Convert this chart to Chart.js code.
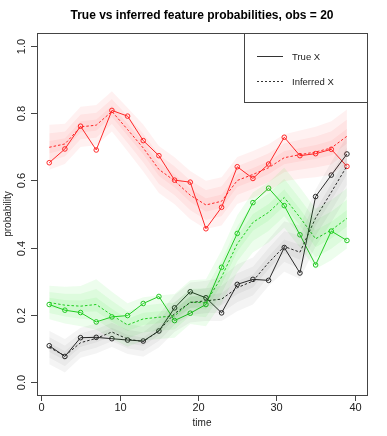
<!DOCTYPE html>
<html>
<head>
<meta charset="utf-8">
<script src="https://cdn.jsdelivr.net/npm/chart.js@4.4.1/dist/chart.umd.min.js"></script>
<style>
  html, body { margin: 0; padding: 0; background: #fff; }
  #wrap { width: 387px; height: 436px; }
</style>
</head>
<body>
<div id="wrap"><canvas id="myChart" width="387" height="436"></canvas></div>
<script>
// time points (obs = 20)
const times = [1, 3, 5, 7, 9, 11, 13, 15, 17, 19, 21, 23, 25, 27, 29, 31, 33, 35, 37, 39];

// red feature
const redTrue = [0.653, 0.694, 0.762, 0.691, 0.809, 0.792, 0.719, 0.674, 0.601, 0.595, 0.456, 0.520, 0.641, 0.606, 0.649, 0.729, 0.674, 0.680, 0.693, 0.642];
const redInferred = [0.699, 0.709, 0.760, 0.765, 0.806, 0.752, 0.697, 0.633, 0.599, 0.556, 0.527, 0.538, 0.600, 0.618, 0.638, 0.668, 0.677, 0.685, 0.697, 0.732];
const redSpread = [0.067, 0.060, 0.060, 0.060, 0.060, 0.065, 0.070, 0.070, 0.070, 0.072, 0.072, 0.072, 0.070, 0.070, 0.070, 0.070, 0.072, 0.075, 0.080, 0.080];

// green feature
const greenTrue = [0.230, 0.213, 0.206, 0.178, 0.193, 0.197, 0.233, 0.254, 0.182, 0.204, 0.230, 0.341, 0.442, 0.534, 0.577, 0.525, 0.438, 0.348, 0.449, 0.421];
const greenInferred = [0.236, 0.228, 0.225, 0.230, 0.198, 0.169, 0.187, 0.192, 0.196, 0.237, 0.235, 0.312, 0.411, 0.475, 0.505, 0.549, 0.490, 0.426, 0.452, 0.487];
const greenSpread = [0.050, 0.055, 0.060, 0.075, 0.070, 0.065, 0.065, 0.065, 0.065, 0.065, 0.070, 0.080, 0.085, 0.090, 0.090, 0.090, 0.090, 0.090, 0.090, 0.090];

// black feature
const blackTrue = [0.107, 0.075, 0.131, 0.132, 0.128, 0.124, 0.121, 0.151, 0.220, 0.268, 0.250, 0.205, 0.290, 0.305, 0.302, 0.400, 0.324, 0.552, 0.616, 0.679];
const blackInferred = [0.102, 0.077, 0.116, 0.129, 0.148, 0.127, 0.119, 0.152, 0.203, 0.236, 0.241, 0.246, 0.280, 0.300, 0.355, 0.403, 0.386, 0.488, 0.565, 0.643];
const blackSpread = [0.050, 0.050, 0.045, 0.045, 0.045, 0.045, 0.045, 0.050, 0.055, 0.060, 0.060, 0.065, 0.070, 0.070, 0.070, 0.075, 0.080, 0.085, 0.090, 0.090];

// axis ticks
const xTicks = [0, 10, 20, 30, 40];
const yTicks = [0, 0.2, 0.4, 0.6, 0.8, 1.0];
const bandLevels = [1.0, 0.62, 0.28];

const FONT = '"Liberation Sans", Arial, Helvetica, sans-serif';

function pts(values) {
    return times.map((t, i) => ({ x: t, y: values[i] }));
}

function bandDatasets(mean, spread, fillColor) {
    const sets = [];
    bandLevels.forEach(k => {
        sets.push({
            data: times.map((t, i) => ({ x: t, y: mean[i] - k * spread[i] })),
            borderWidth: 0,
            pointRadius: 0,
            fill: false
        });
        sets.push({
            data: times.map((t, i) => ({ x: t, y: mean[i] + k * spread[i] })),
            borderWidth: 0,
            pointRadius: 0,
            backgroundColor: fillColor,
            fill: '-1'
        });
    });
    return sets;
}

function trueLine(values, color) {
    return {
        data: pts(values),
        borderColor: color,
        borderWidth: 1,
        pointRadius: 2.3,
        pointBorderWidth: 1,
        pointBorderColor: color,
        pointBackgroundColor: 'rgba(0,0,0,0)',
        fill: false
    };
}

function inferredLine(values, color) {
    return {
        data: pts(values),
        borderColor: color,
        borderWidth: 1,
        borderDash: [2.5, 2],
        pointRadius: 0,
        fill: false
    };
}

const RED = 'rgb(255,45,45)';
const GREEN = 'rgb(40,200,40)';
const BLACK = 'rgb(45,45,45)';

// R style box, ticks, labels and legend
const rAxes = {
    id: 'rAxes',
    afterDraw(chart) {
        const ctx = chart.ctx;
        const a = chart.chartArea;
        const xs = chart.scales.x;
        const ys = chart.scales.y;
        ctx.save();
        ctx.strokeStyle = '#444';
        ctx.fillStyle = '#222';
        ctx.lineWidth = 1;

        // box
        ctx.strokeRect(Math.round(a.left) + 0.5, Math.round(a.top) + 0.5,
            Math.round(a.right - a.left), Math.round(a.bottom - a.top));

        // x ticks
        ctx.font = '11px ' + FONT;
        ctx.textAlign = 'center';
        ctx.textBaseline = 'middle';
        xTicks.forEach(v => {
            const px = Math.round(xs.getPixelForValue(v)) + 0.5;
            ctx.beginPath();
            ctx.moveTo(px, a.bottom);
            ctx.lineTo(px, a.bottom + 6);
            ctx.stroke();
            ctx.fillText(String(v), px, a.bottom + 13);
        });

        // y ticks (labels parallel to axis)
        yTicks.forEach(v => {
            const py = Math.round(ys.getPixelForValue(v)) + 0.5;
            ctx.beginPath();
            ctx.moveTo(a.left, py);
            ctx.lineTo(a.left - 6, py);
            ctx.stroke();
            ctx.save();
            ctx.translate(a.left - 15, py);
            ctx.rotate(-Math.PI / 2);
            ctx.fillText(v.toFixed(1), 0, 0);
            ctx.restore();
        });

        // axis titles
        ctx.font = '10px ' + FONT;
        ctx.fillText('time', (a.left + a.right) / 2, 423);
        ctx.save();
        ctx.translate(8, (a.top + a.bottom) / 2);
        ctx.rotate(-Math.PI / 2);
        ctx.fillText('probability', 0, 0);
        ctx.restore();

        // main title
        ctx.fillStyle = '#000';
        ctx.font = 'bold 12px ' + FONT;
        ctx.fillText('True vs inferred feature probabilities, obs = 20', (a.left + a.right) / 2, 16);

        // legend
        const lx = 244.5, ly = Math.round(a.top) + 0.5;
        ctx.fillStyle = '#fff';
        ctx.fillRect(lx, ly, a.right - lx, 102.5 - ly);
        ctx.strokeStyle = '#444';
        ctx.strokeRect(lx, ly, Math.round(a.right) - lx + 0.5, 102.5 - ly);
        ctx.strokeStyle = '#333';
        ctx.beginPath();
        ctx.moveTo(257, 56.5);
        ctx.lineTo(283, 56.5);
        ctx.stroke();
        ctx.setLineDash([2, 2]);
        ctx.beginPath();
        ctx.moveTo(257, 81.5);
        ctx.lineTo(283, 81.5);
        ctx.stroke();
        ctx.setLineDash([]);
        ctx.fillStyle = '#222';
        ctx.font = '9.5px ' + FONT;
        ctx.textAlign = 'left';
        ctx.fillText('True X', 292, 57);
        ctx.fillText('Inferred X', 292, 82);

        ctx.restore();
    }
};

function makeChart() {
    const ctx = document.getElementById('myChart');
    const datasets = [].concat(
        bandDatasets(blackInferred, blackSpread, 'rgba(0,0,0,0.045)'),
        bandDatasets(greenInferred, greenSpread, 'rgba(0,220,0,0.07)'),
        bandDatasets(redInferred, redSpread, 'rgba(255,0,0,0.055)'),
        [
            inferredLine(blackInferred, BLACK),
            trueLine(blackTrue, BLACK),
            inferredLine(greenInferred, GREEN),
            trueLine(greenTrue, GREEN),
            inferredLine(redInferred, RED),
            trueLine(redTrue, RED)
        ]
    );

    // eslint-disable-next-line no-new
    const myChart = new Chart(ctx, {
        type: 'line',
        data: { datasets: datasets },
        options: {
            responsive: false,
            animation: false,
            layout: { padding: { left: 37, right: 20, top: 33, bottom: 41 } },
            elements: { line: { tension: 0 } },
            plugins: {
                legend: { display: false },
                title: { display: false },
                tooltip: { enabled: false },
                filler: { propagate: false }
            },
            scales: {
                x: { type: 'linear', min: -0.56, max: 41.56, display: false },
                y: { type: 'linear', min: -0.04, max: 1.04, display: false }
            }
        },
        plugins: [rAxes]
    });
    return myChart;
}

document.addEventListener('DOMContentLoaded', function() {
    makeChart();
});
</script>
</body>
</html>
